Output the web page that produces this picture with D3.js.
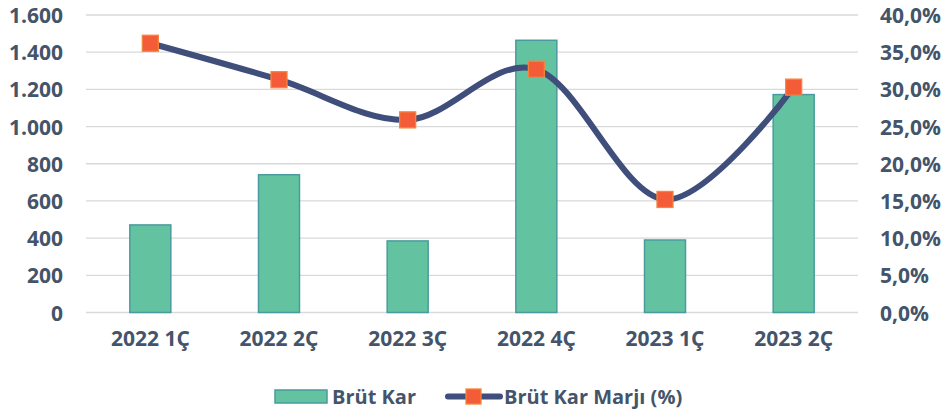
<!DOCTYPE html>
<html>
<head>
<meta charset="utf-8">
<script src="https://cdn.jsdelivr.net/npm/d3@7"></script>
<style>
  body { margin: 0; background: #fff; }
  text { font-family: "Open Sans", sans-serif; font-weight: bold; fill: #44546A; }
</style>
</head>
<body>
<script>
'use strict';

// chart data
const categories = ['2022 1Ç', '2022 2Ç', '2022 3Ç', '2022 4Ç', '2023 1Ç', '2023 2Ç'];
const brutKar = [471, 741, 385, 1464, 390, 1172];
const brutKarMarji = [36.2, 31.3, 25.9, 32.7, 15.2, 30.3];
const leftTicks = [0, 200, 400, 600, 800, 1000, 1200, 1400, 1600];
const rightTicks = [0, 5, 10, 15, 20, 25, 30, 35, 40];

(function () {
    const width = 942, height = 414;
    const tr = d3.formatLocale({decimal: ',', thousands: '.', grouping: [3], currency: ['', '₺']});

    const svg = d3.select('body').append('svg')
        .attr('width', width)
        .attr('height', height);

    // scales
    const x = d3.scaleBand().domain(categories).range([86, 858]);
    const yL = d3.scaleLinear().domain([0, 1600]).range([312.5, 15]);
    const yR = d3.scaleLinear().domain([0, 40]).range([312.5, 15]);

    // gridlines
    svg.append('g')
        .selectAll('line')
        .data(leftTicks)
        .enter()
        .append('line')
        .attr('x1', 86).attr('x2', 858)
        .attr('y1', d => yL(d)).attr('y2', d => yL(d))
        .attr('stroke', '#d9d9d9').attr('stroke-width', 1.3);

    // left axis
    const axL = svg.append('g')
        .attr('transform', 'translate(71,0)')
        .call(d3.axisLeft(yL).tickValues(leftTicks).tickSize(0).tickPadding(8).tickFormat(tr.format(',')));
    axL.select('.domain').remove();
    axL.selectAll('text').attr('font-size', 21).attr('font-family', null).attr('dy', '0.36em');

    // right axis
    const axR = svg.append('g')
        .attr('transform', 'translate(872,0)')
        .call(d3.axisRight(yR).tickValues(rightTicks).tickSize(0).tickPadding(8)
            .tickFormat(d => tr.format('.1f')(d) + '%'));
    axR.select('.domain').remove();
    axR.selectAll('text').attr('font-size', 21).attr('font-family', null).attr('dy', '0.36em');

    // bottom axis labels
    const axB = svg.append('g')
        .attr('transform', 'translate(0,312.5)')
        .call(d3.axisBottom(x).tickSize(0).tickPadding(19));
    axB.select('.domain').remove();
    axB.selectAll('text').attr('font-size', 21).attr('font-family', null);

    // bars
    const barW = 41;
    svg.append('g')
        .selectAll('rect')
        .data(brutKar)
        .enter()
        .append('rect')
        .attr('x', (d, i) => x(categories[i]) + x.bandwidth() / 2 - barW / 2)
        .attr('y', d => yL(d))
        .attr('width', barW)
        .attr('height', d => yL(0) - yL(d))
        .attr('fill', '#63C3A0')
        .attr('stroke', '#4A9BA0')
        .attr('stroke-width', 1.5);

    // line
    const line = d3.line()
        .x((d, i) => x(categories[i]) + x.bandwidth() / 2)
        .y(d => yR(d))
        .curve(d3.curveCatmullRom.alpha(0));
    svg.append('path')
        .datum(brutKarMarji)
        .attr('d', line)
        .attr('fill', 'none')
        .attr('stroke', '#3F4E7A')
        .attr('stroke-width', 6);

    // markers
    const m = 16;
    svg.append('g')
        .selectAll('rect')
        .data(brutKarMarji)
        .enter()
        .append('rect')
        .attr('x', (d, i) => x(categories[i]) + x.bandwidth() / 2 - m / 2)
        .attr('y', d => yR(d) - m / 2)
        .attr('width', m).attr('height', m)
        .attr('fill', '#F45B37')
        .attr('stroke', '#F5853A')
        .attr('stroke-width', 1.3);

    // legend
    const lg = svg.append('g');
    lg.append('rect')
        .attr('x', 275).attr('y', 390).attr('width', 52).attr('height', 13)
        .attr('fill', '#63C3A0').attr('stroke', '#4A9BA0').attr('stroke-width', 1.5);
    lg.append('text').attr('x', 332).attr('y', 404).attr('font-size', 20).text('Brüt Kar');
    lg.append('line')
        .attr('x1', 448).attr('x2', 500).attr('y1', 396.5).attr('y2', 396.5)
        .attr('stroke', '#3F4E7A').attr('stroke-width', 6).attr('stroke-linecap', 'round');
    lg.append('rect')
        .attr('x', 466).attr('y', 389).attr('width', 15).attr('height', 15)
        .attr('fill', '#F45B37').attr('stroke', '#F5853A').attr('stroke-width', 1.3);
    lg.append('text').attr('x', 504).attr('y', 404).attr('font-size', 20).text('Brüt Kar Marjı (%)');
})();
</script>
</body>
</html>
